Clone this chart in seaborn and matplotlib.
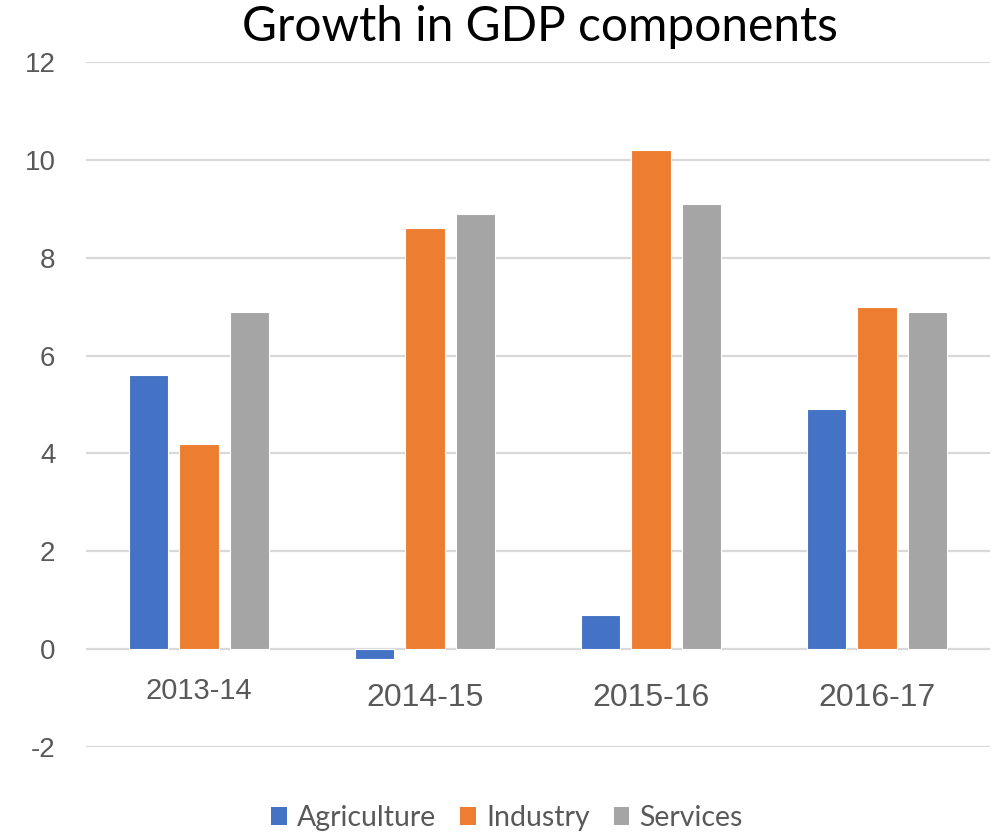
import matplotlib
matplotlib.use("Agg")
import matplotlib.pyplot as plt
import seaborn as sns
import pandas as pd
from matplotlib.patches import Patch

# Growth rates (%) by fiscal year
years = ["2013-14", "2014-15", "2015-16", "2016-17"]
agriculture = [5.6, -0.2, 0.7, 4.9]
industry = [4.2, 8.6, 10.2, 7.0]
services = [6.9, 8.9, 9.1, 6.9]

components = ["Agriculture", "Industry", "Services"]
colors = ["#4472C4", "#ED7D31", "#A5A5A5"]
yticks = [-2, 0, 2, 4, 6, 8, 10, 12]

df = pd.DataFrame({
    "year": years * 3,
    "component": [c for c in components for _ in years],
    "growth": agriculture + industry + services,
})

sns.set_style("white")
plt.rcParams["font.family"] = ["Liberation Sans", "DejaVu Sans"]

fig = plt.figure(figsize=(9.93, 8.35), dpi=100)
ax = fig.add_axes([86 / 993, 1 - 747 / 835, 904 / 993, (747 - 62) / 835])

sns.barplot(
    data=df, x="year", y="growth", hue="component",
    order=years, hue_order=components, palette=colors, saturation=1,
    width=0.664, gap=0.22, edgecolor="white", linewidth=0.8,
    errorbar=None, ax=ax, zorder=3,
)

ax.set_ylim(-2, 12)
ax.set_xlim(-0.5, len(years) - 0.5)
ax.set_yticks(yticks)
ax.set_yticklabels([str(t) for t in yticks])
ax.yaxis.grid(True, color="#D9D9D9", linewidth=1.6, zorder=0)
ax.xaxis.grid(False)
ax.set_axisbelow(True)
for s in ax.spines.values():
    s.set_visible(False)
ax.tick_params(axis="y", length=0, pad=22, labelsize=20, labelcolor="#595959")
ax.set_xticks([])
ax.set_xlabel("")
ax.set_ylabel("")

# Category labels sit just under the zero line
label_sizes = [21, 23, 23, 23]
label_y = [-0.86, -1.0, -1.0, -1.0]
for i, yr in enumerate(years):
    ax.text(i, label_y[i], yr, ha="center", va="center",
            fontsize=label_sizes[i], color="#595959")

ax.get_legend().remove()
handles = [Patch(facecolor=c, edgecolor="none") for c in colors]
fig.legend(
    handles, components, loc="center", bbox_to_anchor=(507 / 993, 1 - 818 / 835),
    ncol=3, frameon=False, prop={"family": "Lato", "size": 20.5},
    labelcolor="#595959", handlelength=0.55, handleheight=0.55,
    handletextpad=0.35, columnspacing=0.85,
)

fig.text(540 / 993, 1 - 27 / 835, "Growth in GDP components",
         ha="center", va="center", fontsize=34.5, family="Lato", color="black")

fig.savefig("out.png", dpi=100)
